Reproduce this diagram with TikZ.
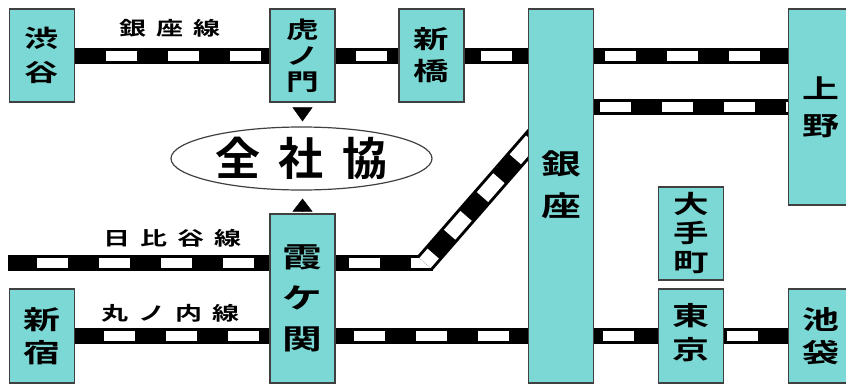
\documentclass[tikz,border=0pt]{standalone}
\usepackage{fontspec}
\setmainfont{Noto Sans CJK JP}
\newfontfamily\ekifont[FakeStretch=1.42]{Noto Sans CJK JP Bold}
\newfontfamily\zenfont{Noto Sans CJK JP Bold}
\usetikzlibrary{shapes.geometric,arrows.meta,backgrounds}
\definecolor{ekifill}{RGB}{124,216,212}
\definecolor{ekiline}{RGB}{64,64,64}
\begin{document}
\begin{tikzpicture}[x=1pt, y=-1pt,
  eki/.style 2 args={shape=rectangle, draw=ekiline, fill=ekifill, line width=1.5pt, minimum width=65pt, inner sep=0pt, align=center, font=\ekifont\fontsize{#1}{#2}\selectfont},
  rail/.style={line width=16pt, draw=black, postaction={draw=white, line width=10pt, dash pattern=on 31pt off 31pt, dash phase=#1}},
  slantrail/.style={line width=21pt, draw=black, postaction={draw=white, line width=15pt, dash pattern=on 25pt off 25pt, dash phase=#1}},
  sen/.style={font=\ekifont\fontsize{19}{19}\selectfont, inner sep=0pt},
  ya/.style={-{Triangle[length=#1, width=20pt]}, draw=black}]
\useasboundingbox (0,0) rectangle (846,383);
\node[eki={24}{34}, minimum height=93pt] (shibuya) at (42,55.5) {渋\\谷};
\node[eki={23}{26}, minimum height=93pt] (toranomon) at (302.5,55.5) {虎\\ノ\\門};
\node[eki={25}{32}, minimum height=93pt] (shinbashi) at (431.5,55.5) {新\\橋};
\node[eki={28}{42}, minimum height=374pt, text depth=24pt] (ginza) at (561,196) {銀\\座};
\node[eki={26}{37}, minimum height=196pt] (ueno) at (821,107) {上\\野};
\node[eki={25}{29}, minimum height=93pt] (otemachi) at (691,233.5) {大\\手\\町};
\node[eki={26}{34}, minimum height=94pt, text depth=10pt] (tokyo) at (691,336) {東\\京};
\node[eki={26}{33}, minimum height=94pt] (ikebukuro) at (821,336) {池\\袋};
\node[eki={28}{41}, minimum height=169pt] (kasumigaseki) at (302.5,298.5) {霞\\ケ\\関};
\node[eki={26}{33}, minimum height=94pt] (shinjuku) at (42,336) {新\\宿};
\node[shape=ellipse, draw=ekiline, line width=1.2pt, minimum width=261pt, minimum height=63pt, inner sep=0pt, text height=34pt, text depth=0pt, font=\zenfont\fontsize{45}{45}\selectfont] (zensha) at (301.5,158.5) {全\hspace{19pt}社\hspace{19pt}協};
\node[sen] (ginzasen) at (170,28.5) {銀\hspace{10pt}座\hspace{10pt}線};
\node[sen] (hibiyasen) at (172.5,238.5) {日\hspace{10pt}比\hspace{10pt}谷\hspace{10pt}線};
\node[sen] (marunouchisen) at (170.5,313) {丸\hspace{10pt}ノ\hspace{10pt}内\hspace{10pt}線};
\coordinate (hibiyaW) at (8,263);
\coordinate (bend) at (425,263);
\coordinate (bendB) at (433,263);
\coordinate (hibiyaE) at (540,131);
\begin{scope}[on background layer]
\draw[rail=31] (shibuya.east) -- (toranomon.west);
\draw[rail=42] (toranomon.east) -- (shinbashi.west);
\draw[rail=46] (shinbashi.east) -- (shinbashi.east -| ginza.west);
\draw[rail=51] (ginza.east |- shinbashi) -- (ueno.west |- shinbashi);
\draw[rail=56] (ginza.east |- ueno) -- (ueno.west);
\draw[rail=33] (hibiyaW) -- (kasumigaseki.west |- hibiyaW);
\draw[rail=49] (kasumigaseki.east |- hibiyaW) -- (bendB);
\draw[slantrail=12.5] (bend) -- (hibiyaE);
\draw[rail=33] (shinjuku.east) -- (kasumigaseki.west |- shinjuku);
\draw[rail=44] (kasumigaseki.east |- shinjuku) -- (ginza.west |- shinjuku);
\draw[rail=53] (ginza.east |- tokyo) -- (tokyo.west);
\draw[rail=59] (tokyo.east) -- (ikebukuro.west);
\end{scope}
\draw[ya=14pt, shorten <=6pt, shorten >=5pt] (toranomon.south) -- (toranomon.south |- zensha.north);
\draw[ya=13pt, shorten <=3pt, shorten >=8pt] (kasumigaseki.north) -- (kasumigaseki.north |- zensha.south);
\end{tikzpicture}
\end{document}
